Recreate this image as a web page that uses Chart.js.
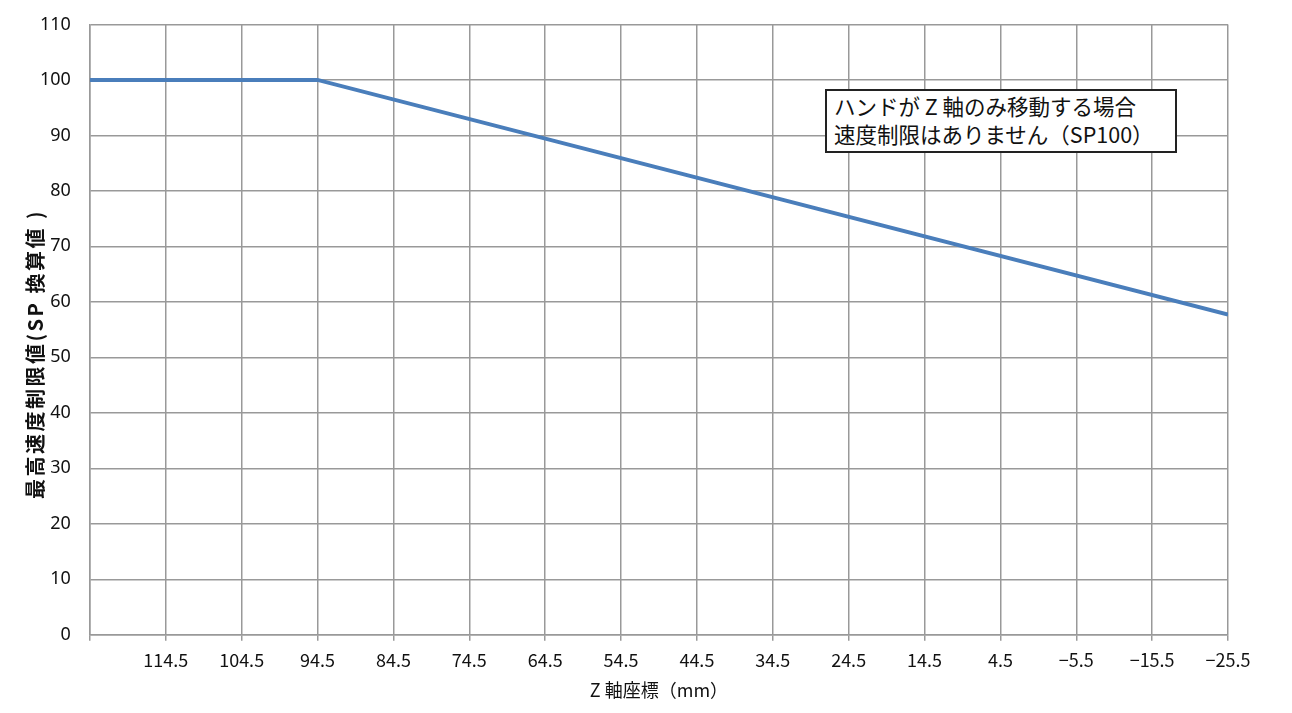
<!DOCTYPE html>
<html>
<head>
<meta charset="utf-8">
<script src="https://cdn.jsdelivr.net/npm/chart.js@4"></script>
<style>
html,body{margin:0;padding:0;background:#fff;}
#wrap{position:relative;width:1292px;height:713px;}
#note{position:absolute;left:825px;top:89px;width:341px;height:59px;border:2px solid #222;background:#fff;
font-family:"Noto Sans CJK JP",sans-serif;font-size:21.5px;line-height:28px;color:#111;padding:1px 0 0 7px;box-sizing:content-box;white-space:nowrap;}
</style>
</head>
<body>
<div id="wrap">
<canvas id="c" width="1292" height="713"></canvas>
<div id="note">ハンドが Z 軸のみ移動する場合<br>速度制限はありません（SP100）</div>
</div>
<script>
const zCoords = [124.5, 94.5, -25.5];
const speedLimit = [100, 100, 57.7];
const xTicks = [124.5, 114.5, 104.5, 94.5, 84.5, 74.5, 64.5, 54.5, 44.5, 34.5, 24.5, 14.5, 4.5, -5.5, -15.5, -25.5];
const yTicks = [0, 10, 20, 30, 40, 50, 60, 70, 80, 90, 100, 110];
const xTitle = 'Z 軸座標（mm）';
const yTitle = '最高速度制限値(SP 換算値 )';

const points = zCoords.map((z, i) => ({x: z, y: speedLimit[i]}));
const fmt = v => {
  if (v === xTicks[0]) return '';
  const s = Math.abs(v).toFixed(1);
  return v < 0 ? '\u2212' + s : s;
};

const yTitlePlugin = {
  id: 'yTitle',
  afterDraw(chart) {
    const ctx = chart.ctx;
    ctx.save();
    ctx.translate(35, 354);
    ctx.rotate(-Math.PI / 2);
    ctx.font = 'bold 20px "Noto Sans CJK JP"';
    ctx.letterSpacing = '2.5px';
    ctx.fillStyle = '#111';
    ctx.textAlign = 'center';
    ctx.textBaseline = 'middle';
    ctx.fillText(yTitle, 0, 0);
    ctx.restore();
  }
};

new Chart(document.getElementById('c'), {
  type: 'line',
  data: {datasets: [{data: points, borderColor: '#4a7ebb', borderWidth: 4, pointRadius: 0, fill: false, tension: 0}]},
  options: {
    responsive: false, animation: false,
    layout: {padding: {left: 21, right: 64, top: 3, bottom: 12}},
    plugins: {legend: {display: false}, tooltip: {enabled: false}},
    scales: {
      x: {
        type: 'linear', reverse: true, min: -25.5, max: 124.5,
        afterBuildTicks: s => { s.ticks = xTicks.map(v => ({value: v})); },
        grid: {color: '#999', lineWidth: 1.5, drawTicks: true, tickLength: 6, tickColor: '#999'},
        border: {color: '#999', width: 1.5},
        ticks: {autoSkip: false, maxRotation: 0, padding: 9, color: '#111', font: {family: '"Noto Sans CJK JP"', size: 18}, callback: v => fmt(v)},
        title: {display: true, text: xTitle, color: '#111', font: {family: '"Noto Sans CJK JP"', size: 18}, padding: {top: -1, bottom: 0}}
      },
      y: {
        min: 0, max: 110,
        afterBuildTicks: s => { s.ticks = yTicks.map(v => ({value: v})); },
        grid: {color: '#999', lineWidth: 1.5, drawTicks: false},
        border: {color: '#999', width: 1.5},
        ticks: {padding: 19, color: '#111', font: {family: '"Noto Sans"', size: 18, lineHeight: 0.6}},
        title: {display: false}
      }
    }
  },
  plugins: [yTitlePlugin]
});
</script>
</body>
</html>
